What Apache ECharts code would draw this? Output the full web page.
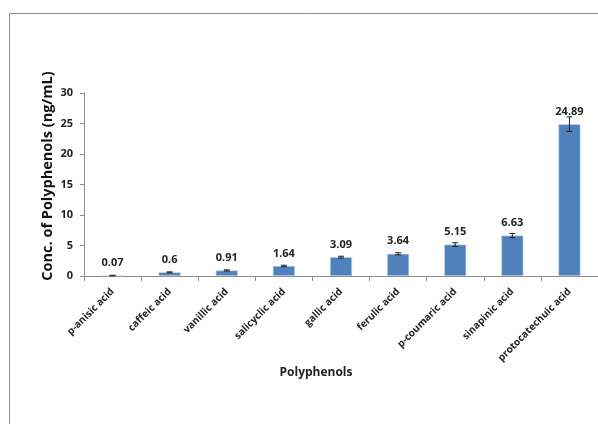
<!DOCTYPE html>
<html>
<head>
<meta charset="utf-8">
<script src="https://cdn.jsdelivr.net/npm/echarts@6/dist/echarts.min.js"></script>
<style>
html,body{margin:0;padding:0;background:#fff;}
#chart{width:598px;height:424px;}
</style>
</head>
<body>
<div id="chart"></div>
<script>
// Polyphenol concentrations (ng/mL) with standard-deviation error bars
const categories = ['p-anisic acid', 'caffeic acid', 'vanillic acid', 'salicyclic acid', 'gallic acid',
  'ferulic acid', 'p-coumaric acid', 'sinapinic acid', 'protocatechuic acid'];
const concentrations = [0.07, 0.6, 0.91, 1.64, 3.09, 3.64, 5.15, 6.63, 24.89];
const errors = [0.05, 0.08, 0.1, 0.12, 0.15, 0.18, 0.3, 0.35, 1.2];
const yTicks = [0, 5, 10, 15, 20, 25, 30];
const xTitle = 'Polyphenols';
const yTitle = 'Conc. of Polyphenols (ng/mL)';

const FONT = '"Open Sans", "Liberation Sans", sans-serif';
const chart = echarts.init(document.getElementById('chart'));

const errorData = concentrations.map((v, i) => [i, v - errors[i], v + errors[i]]);

chart.setOption({
  animation: false,
  backgroundColor: '#ffffff',
  graphic: [{
    // chart-area frame
    type: 'rect',
    shape: { x: 9.5, y: 13.5, width: 620, height: 440 },
    style: { fill: 'none', stroke: '#8a8a8a', lineWidth: 1 },
    silent: true
  }, {
    // value-axis title
    type: 'text',
    x: 48, y: 176,
    rotation: Math.PI / 2,
    style: {
      text: yTitle, align: 'center', verticalAlign: 'middle',
      font: 'bold 14.5px ' + FONT, fill: '#111'
    },
    silent: true
  }, {
    // category-axis title
    type: 'text',
    x: 316, y: 373,
    style: {
      text: xTitle, align: 'center', verticalAlign: 'middle',
      font: 'bold 12px ' + FONT, fill: '#222'
    },
    silent: true
  }],
  grid: { left: 84, right: -3, top: 93, bottom: 148, containLabel: false },
  xAxis: {
    type: 'category',
    data: categories,
    axisLine: { lineStyle: { color: '#8c8c8c' } },
    axisTick: { show: true, length: 5, lineStyle: { color: '#8c8c8c' } },
    axisLabel: { rotate: 45, margin: 14, fontFamily: FONT, fontWeight: 'bold', fontSize: 10, color: '#222' }
  },
  yAxis: {
    type: 'value',
    min: yTicks[0],
    max: yTicks[yTicks.length - 1],
    interval: 5,
    axisLine: { show: true, lineStyle: { color: '#8c8c8c' } },
    axisTick: { show: true, length: 4, lineStyle: { color: '#8c8c8c' } },
    splitLine: { show: false },
    axisLabel: { margin: 11, fontFamily: FONT, fontWeight: 'bold', fontSize: 11, color: '#222' }
  },
  series: [{
    type: 'bar',
    data: concentrations,
    barWidth: 22,
    itemStyle: { color: '#4f81bd', borderColor: '#c8d6ea', borderWidth: 0.6 },
    label: {
      show: true,
      position: 'top',
      distance: 7,
      fontFamily: FONT, fontWeight: 'bold', fontSize: 11, color: '#222',
      formatter: p => String(p.value)
    },
    z: 2
  }, {
    type: 'custom',
    data: errorData,
    z: 3,
    renderItem: (params, api) => {
      const x = api.value(0);
      const lo = api.coord([x, api.value(1)]);
      const hi = api.coord([x, api.value(2)]);
      const cap = 3;
      const st = { stroke: '#222', lineWidth: 1 };
      return {
        type: 'group',
        children: [
          { type: 'line', shape: { x1: lo[0], y1: lo[1], x2: hi[0], y2: hi[1] }, style: st },
          { type: 'line', shape: { x1: lo[0] - cap, y1: lo[1], x2: lo[0] + cap, y2: lo[1] }, style: st },
          { type: 'line', shape: { x1: hi[0] - cap, y1: hi[1], x2: hi[0] + cap, y2: hi[1] }, style: st }
        ]
      };
    }
  }]
});
</script>
</body>
</html>
